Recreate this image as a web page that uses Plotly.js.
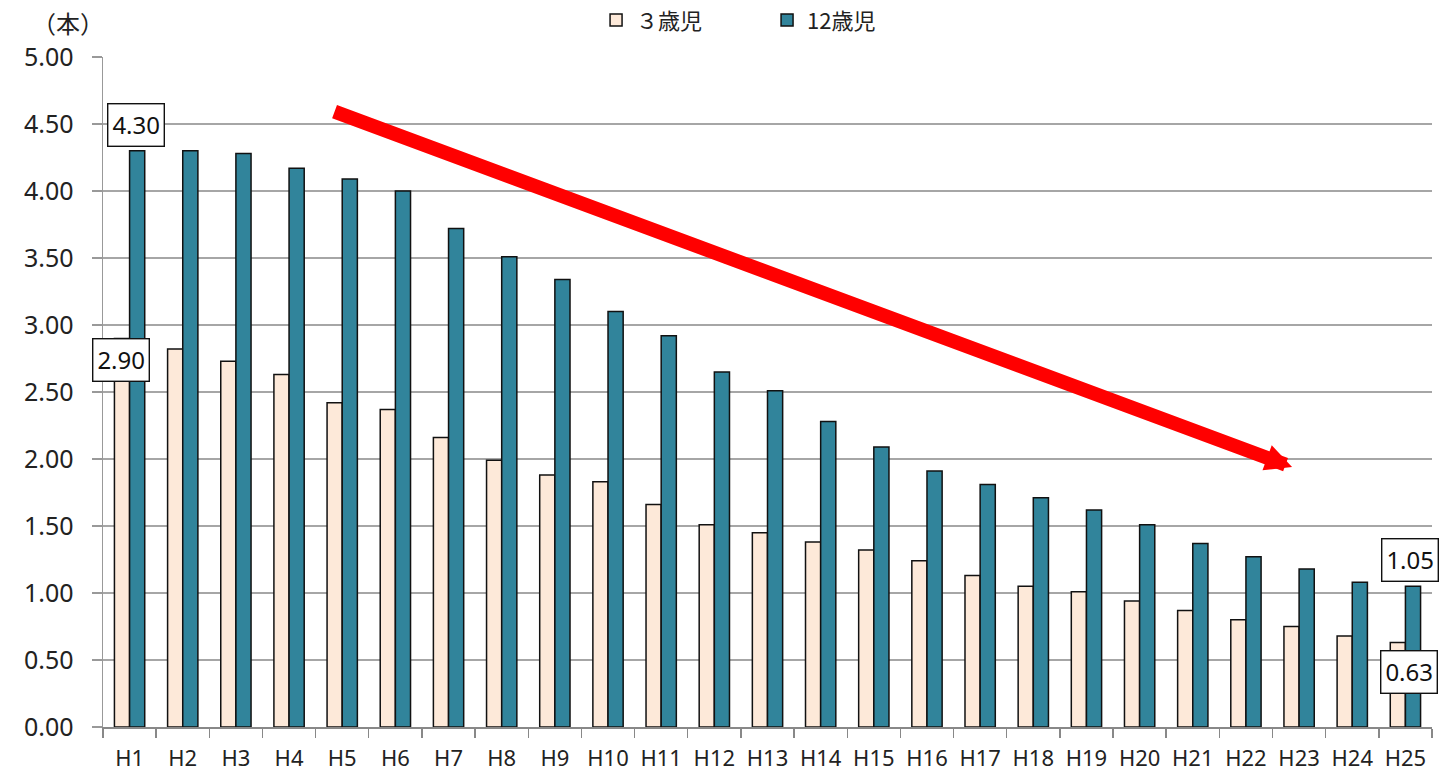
<!DOCTYPE html>
<html>
<head>
<meta charset="utf-8">
<script src="https://cdn.plot.ly/plotly-3.0.1.min.js"></script>
<style>
  html, body { margin: 0; padding: 0; background: #fff; }
  #chart { width: 1443px; height: 775px; }
</style>
</head>
<body>
<div id="chart"></div>
<script>
// 一人平均むし歯数（本）の推移
const years = ['H1','H2','H3','H4','H5','H6','H7','H8','H9','H10','H11','H12','H13',
               'H14','H15','H16','H17','H18','H19','H20','H21','H22','H23','H24','H25'];
const age3 = [2.90, 2.82, 2.73, 2.63, 2.42, 2.37, 2.16, 1.99, 1.88, 1.83, 1.66, 1.51, 1.45,
              1.38, 1.32, 1.24, 1.13, 1.05, 1.01, 0.94, 0.87, 0.80, 0.75, 0.68, 0.63];
const age12 = [4.30, 4.30, 4.28, 4.17, 4.09, 4.00, 3.72, 3.51, 3.34, 3.10, 2.92, 2.65, 2.51,
               2.28, 2.09, 1.91, 1.81, 1.71, 1.62, 1.51, 1.37, 1.27, 1.18, 1.08, 1.05];
const seriesNames = ['３歳児', '12歳児'];
const yTicks = [0, 0.5, 1, 1.5, 2, 2.5, 3, 3.5, 4, 4.5, 5];

const FONT = '"Noto Sans", "Noto Sans CJK JP", sans-serif';
const JFONT = '"Noto Sans CJK JP", "Noto Sans", sans-serif';

const traces = [
  {
    type: 'bar', name: seriesNames[0], x: years, y: age3,
    marker: { color: '#FDE9D9', line: { color: '#111', width: 1.5 } },
    hoverinfo: 'x+y'
  },
  {
    type: 'bar', name: seriesNames[1], x: years, y: age12,
    marker: { color: '#31849B', line: { color: '#111', width: 1.5 } },
    hoverinfo: 'x+y'
  }
];

// boxed value labels for the first and last year
function valueBox(cat, val, xshift, yshift) {
  return {
    xref: 'x', yref: 'y', x: cat, y: val,
    text: val.toFixed(2), showarrow: false,
    xshift: xshift, yshift: yshift,
    font: { family: FONT, size: 24, color: '#111' },
    bgcolor: '#fff', bordercolor: '#111', borderwidth: 1.4, borderpad: 4
  };
}
const first = 0, last = years.length - 1;

const annotations = [
  valueBox(years[first], age12[first], 6, 26),
  valueBox(years[first], age3[first], -9, -22),
  valueBox(years[last], age12[last], 5, 26),
  valueBox(years[last], age3[last], 4, -29),
  {
    xref: 'paper', yref: 'paper', x: 0.002, y: 1.0, yshift: 35,
    xanchor: 'right', yanchor: 'middle',
    text: '（本）', showarrow: false,
    font: { family: JFONT, size: 24, color: '#222' }
  },
  // downward trend arrow
  {
    xref: 'paper', yref: 'paper', x: 0.8947, y: 0.388,
    axref: 'pixel', ayref: 'pixel', ax: -959, ay: -356,
    text: '', showarrow: true,
    arrowhead: 2, arrowsize: 0.38, arrowwidth: 14, arrowcolor: '#FF0000',
    standoff: 0, startstandoff: 0
  }
];

const layout = {
  width: 1443, height: 775,
  margin: { l: 103, r: 11, t: 57, b: 48, autoexpand: false },
  paper_bgcolor: '#fff', plot_bgcolor: '#fff',
  font: { family: FONT, color: '#222' },
  barmode: 'group', bargap: 0.43, bargroupgap: 0,
  showlegend: true,
  legend: {
    orientation: 'h', x: 0.371, y: 1.055, xanchor: 'left', yanchor: 'middle',
    font: { family: JFONT, size: 22, color: '#222' },
    itemwidth: 30, entrywidth: 126, traceorder: 'normal'
  },
  xaxis: {
    type: 'category', range: [-0.5, years.length - 0.5], autorange: false,
    tickson: 'boundaries',
    ticks: 'outside', ticklen: 9, tickcolor: '#888', tickwidth: 1.4,
    ticklabelstandoff: 11,
    showline: true, linecolor: '#888', linewidth: 1.5,
    showgrid: false,
    tickfont: { family: FONT, size: 22, color: '#222' }
  },
  yaxis: {
    range: [0, 5], autorange: false, tickvals: yTicks,
    ticktext: yTicks.map(v => v.toFixed(2)),
    ticks: 'outside', ticklen: 10, tickcolor: '#999', tickwidth: 1.4,
    ticklabelstandoff: 13,
    showline: true, linecolor: '#999', linewidth: 1.4,
    showgrid: true, gridcolor: '#a6a6a6', gridwidth: 1.5,
    zeroline: false,
    tickfont: { family: FONT, size: 25, color: '#222' }
  },
  annotations: annotations
};

Plotly.newPlot('chart', traces, layout, { displayModeBar: false, staticPlot: true });
</script>
</body>
</html>
